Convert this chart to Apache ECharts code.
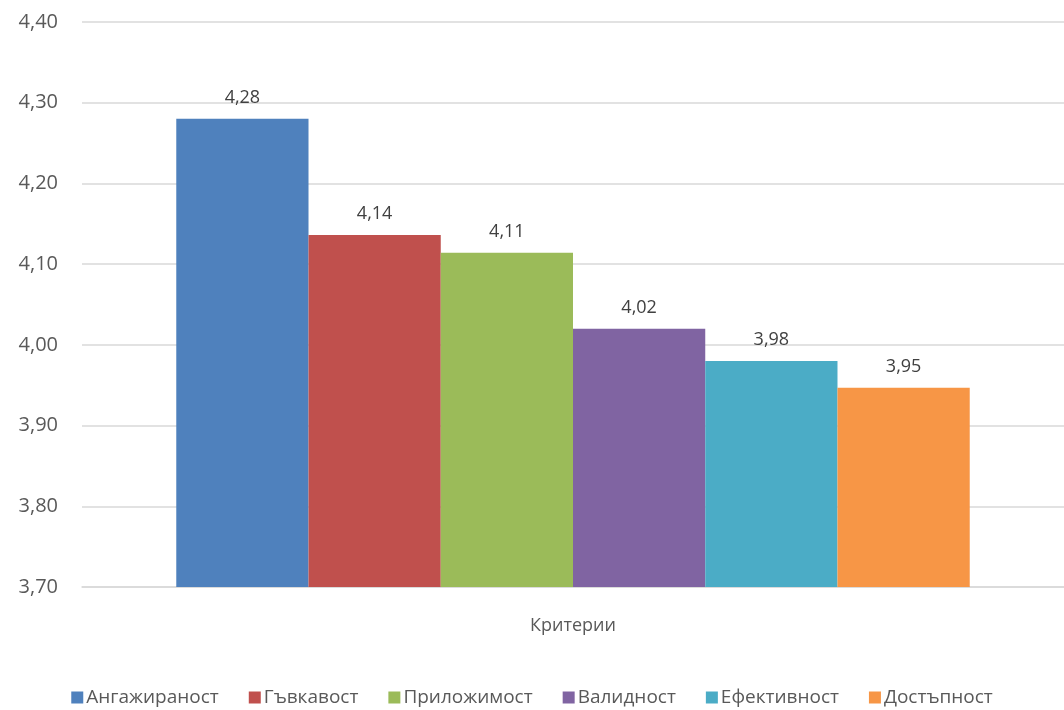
<!DOCTYPE html>
<html><head><meta charset="utf-8">
<script src="https://cdn.jsdelivr.net/npm/echarts@6/dist/echarts.min.js"></script>
<style>html,body{margin:0;padding:0;background:#fff}#c{width:1064px;height:710px}</style>
</head><body><div id="c"></div>
<script>
const categories = ['Критерии'];
const seriesNames = ['Ангажираност','Гъвкавост','Приложимост','Валидност','Ефективност','Достъпност'];
const seriesValues = [4.28, 4.136, 4.114, 4.02, 3.98, 3.947];
const colors = ['#4f81bd','#c0504d','#9bbb59','#8064a2','#4bacc6','#f79646'];
const yTicks = {min: 3.7, max: 4.4, interval: 0.1};
const fmt = v => v.toFixed(2).replace('.', ',');
const font = 'Open Sans';
const chart = echarts.init(document.getElementById('c'));
chart.setOption({
  animation: false,
  grid: {left: 82, right: 0, top: 22, bottom: 123, containLabel: false},
  legend: {
    bottom: -2, left: 'center', itemWidth: 12, itemHeight: 12, itemGap: 30,
    icon: 'rect',
    textStyle: {fontFamily: font, fontSize: 19, color: '#595959', padding: [0,0,0,-2]},
    data: seriesNames
  },
  xAxis: {
    type: 'category', data: categories,
    axisLine: {show: true, lineStyle: {color: '#d9d9d9', width: 1.5}},
    axisTick: {show: false},
    axisLabel: {fontFamily: font, fontSize: 18, color: '#595959', margin: 30}
  },
  yAxis: {
    type: 'value', min: yTicks.min, max: yTicks.max, interval: yTicks.interval,
    axisLine: {show: false}, axisTick: {show: false},
    splitLine: {lineStyle: {color: '#d9d9d9', width: 1.5}},
    axisLabel: {fontFamily: font, fontSize: 20, color: '#595959', margin: 24, formatter: fmt}
  },
  series: seriesNames.map((n, i) => ({
    name: n, type: 'bar',
    data: [seriesValues[i]],
    itemStyle: {color: colors[i]},
    barGap: '0%', barCategoryGap: '19.2%',
    label: {show: true, position: 'top', distance: 12, fontFamily: font, fontSize: 18, color: '#404040',
      formatter: p => fmt(p.value)}
  }))
});
</script></body></html>
